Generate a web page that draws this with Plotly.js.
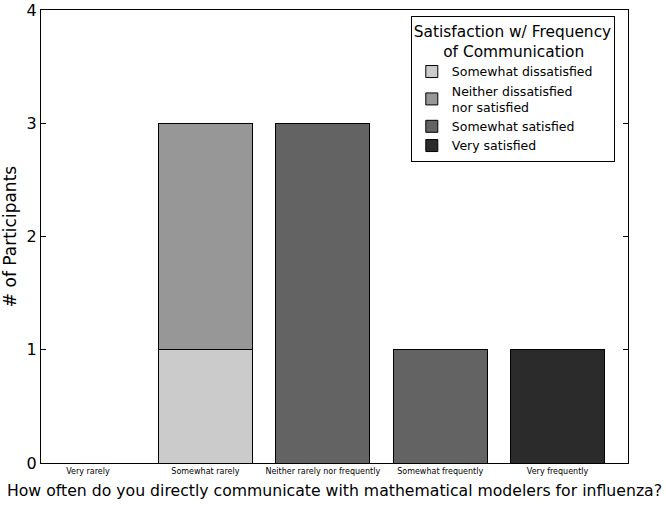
<!DOCTYPE html>
<html>
<head>
<meta charset="utf-8">
<script src="https://cdn.plot.ly/plotly-3.0.1.min.js"></script>
<style>html,body{margin:0;padding:0;background:#fff;}#chart{width:666px;height:505px;}</style>
</head>
<body>
<div id="chart"></div>
<script>
var categories = ["Very rarely", "Somewhat rarely", "Neither rarely nor frequently", "Somewhat frequently", "Very frequently"];
var seriesNames = ["Somewhat dissatisfied", "Neither dissatisfied<br>nor satisfied", "Somewhat satisfied", "Very satisfied"];
var somewhatDissatisfied = [0, 1, 0, 0, 0];
var neitherDissatisfiedNorSatisfied = [0, 2, 0, 0, 0];
var somewhatSatisfied = [0, 0, 3, 1, 0];
var verySatisfied = [0, 0, 0, 0, 1];
var yTicks = [0, 1, 2, 3, 4];

var colors = ["#cbcbcb", "#979797", "#636363", "#2b2b2b"];
var values = [somewhatDissatisfied, neitherDissatisfiedNorSatisfied, somewhatSatisfied, verySatisfied];

var traces = values.map(function (v, i) {
  return {
    type: "bar",
    name: seriesNames[i],
    x: categories,
    y: v,
    width: 0.8,
    marker: { color: colors[i], line: { color: "#000", width: 1 } }
  };
});

var layout = {
  width: 666, height: 505,
  margin: { l: 41, r: 38, t: 10, b: 42, autoexpand: false },
  barmode: "stack",
  paper_bgcolor: "#fff", plot_bgcolor: "#fff",
  font: { family: "DejaVu Sans", color: "#000" },
  showlegend: true,
  legend: {
    x: 0.63, y: 0.987, xanchor: "left", yanchor: "top",
    bordercolor: "#000", borderwidth: 1, bgcolor: "#fff",
    traceorder: "normal",
    font: { size: 12.5, family: "DejaVu Sans", color: "#000" },
    title: { text: "Satisfaction w/ Frequency<br>&nbsp;&nbsp;&nbsp;&nbsp;&nbsp;&nbsp;of Communication", side: "top", font: { size: 15.4, family: "DejaVu Sans" } },
    tracegroupgap: 0
  },
  xaxis: {
    type: "category",
    range: [-0.4, 4.6],
    showline: true, linecolor: "#000", linewidth: 1, mirror: true,
    ticks: "",
    showgrid: false, zeroline: false,
    tickfont: { size: 8, family: "DejaVu Sans" },
    title: { text: "How often do you directly communicate with mathematical modelers for influenza?", font: { size: 15.7 }, standoff: 10 }
  },
  yaxis: {
    range: [0, 4],
    tickvals: yTicks,
    showline: true, linecolor: "#000", linewidth: 1, mirror: "allticks",
    ticks: "inside", ticklen: 5, tickcolor: "#000",
    showgrid: false, zeroline: false,
    tickfont: { size: 16 },
    title: { text: "# of Participants", font: { size: 17 }, standoff: 8 }
  }
};

Plotly.newPlot("chart", traces, layout, { displayModeBar: false, staticPlot: true });
</script>
</body>
</html>
